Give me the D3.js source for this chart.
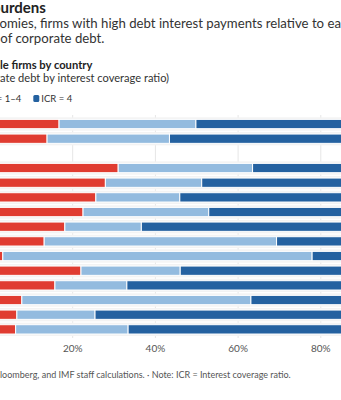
<!DOCTYPE html>
<html>
<head>
<meta charset="utf-8">
<script src="https://cdn.jsdelivr.net/npm/d3@7"></script>
<style>
  body { margin: 0; background: #fff; overflow: hidden; }
  svg { display: block; font-family: Lato, "Open Sans", sans-serif; }
</style>
</head>
<body>
<script>
// rows top to bottom; the empty string is the spacer between aggregates and countries
var categories = ["Advanced economies", "Emerging markets", "",
  "China", "India", "Turkey", "Brazil", "Indonesia", "South Africa",
  "Mexico", "Russia", "Korea", "United States", "Japan", "Germany"];
var icrBelow1 = [16.7, 13.8, null, 31.0, 27.9, 25.6, 22.5, 18.1, 13.1, 3.1, 22.0, 15.7, 7.7, 6.5, 6.2];
var icr1to4   = [33.1, 29.6, null, 32.5, 23.3, 20.3, 30.4, 18.5, 56.2, 74.8, 24.0, 17.4, 55.4, 18.9, 27.2];
var icrAbove4 = [50.2, 56.6, null, 36.5, 48.8, 54.1, 47.1, 63.4, 30.7, 22.1, 54.0, 66.9, 36.9, 74.6, 66.6];
var seriesNames = ["ICR < 1", "ICR = 1–4", "ICR = 4"];
var colors = ["#e03c31", "#93bbdf", "#2461a0"];
var xTicks = [0, 20, 40, 60, 80, 100];

var W = 341, H = 400;

var svg = d3.select("body").append("svg")
    .attr("width", W)
    .attr("height", H);

// the chart is wider than the window: its left side sits off screen.
// place a text so that the part after `hidden` starts at x0
function addCut(parent, str, hidden, x0, y0, size, weight, fill) {
  var t = parent.append("text")
      .attr("y", y0)
      .style("font-size", size + "px")
      .style("font-weight", weight)
      .style("fill", fill)
      .text(str);
  var w = hidden.length ? t.node().getSubStringLength(0, hidden.length) : 0;
  t.attr("x", x0 - w);
  return t;
}

// headings
addCut(svg, "Heavy debt burdens", "Heavy debt b", 0.5, 13, 15, "bold", "#222");
addCut(svg, "In some economies, firms with high debt interest payments relative to earnings hold",
    "In some econ", -0.5, 28, 13.2, "normal", "#333");
addCut(svg, "a large share of corporate debt.", "a large share ", 0.3, 43, 13.2, "normal", "#333");
addCut(svg, "Share of vulnerable firms by country", "Share of vulnerab", 0, 69, 11.2, "bold", "#222");
addCut(svg, "(percent of corporate debt by interest coverage ratio)", "(percent of corpor", 0, 81.5, 11.1, "normal", "#333");

// legend
var legend = svg.append("g");
var lx = 0, itemX = [];
seriesNames.forEach(function(name, i) {
  itemX.push(lx);
  var item = legend.append("g").attr("transform", "translate(" + lx + ",0)");
  item.append("rect")
      .attr("x", 0).attr("y", -6.5)
      .attr("width", 6).attr("height", 7)
      .attr("rx", 1.5)
      .style("fill", colors[i]);
  var t = item.append("text")
      .attr("x", 8)
      .style("font-size", "9.5px").style("fill", "#333")
      .text(name);
  lx += 8 + t.node().getComputedTextLength() + 12;
});
legend.attr("transform", "translate(" + (33.3 - itemX[2]) + ",101.5)");

// scales
var x = d3.scaleLinear().domain([0, 100]).range([-10, 403.5]);
var y = d3.scaleBand()
    .domain(d3.range(categories.length))
    .range([116.7, 336.7])
    .paddingInner(0.366)
    .paddingOuter(0.183);

// grid
svg.append("g").selectAll("line")
    .data(xTicks)
    .enter().append("line")
    .attr("x1", function(d) { return x(d); })
    .attr("x2", function(d) { return x(d); })
    .attr("y1", 115)
    .attr("y2", 338)
    .style("stroke", "#e6e6e6")
    .style("stroke-width", 1);

// stack the three shares
var rows = categories.map(function(c, i) {
  return { name: c, v: [icrBelow1[i], icr1to4[i], icrAbove4[i]] };
}).filter(function(r) { return r.v[0] !== null; });

var rowG = svg.append("g").selectAll("g")
    .data(rows)
    .enter().append("g")
    .attr("transform", function(d) { return "translate(0," + y(categories.indexOf(d.name)) + ")"; });

rowG.append("rect")
    .attr("x", x(0))
    .attr("y", -2)
    .attr("width", x(100) - x(0))
    .attr("height", y.bandwidth() + 4)
    .style("fill", "#f3f3f3");

rowG.selectAll("rect.seg")
    .data(function(d) {
      var acc = 0;
      return d.v.map(function(v, i) {
        var s = { x0: acc, x1: acc + v, i: i };
        acc += v;
        return s;
      });
    })
    .enter().append("rect")
    .attr("class", "seg")
    .attr("x", function(d) { return x(d.x0); })
    .attr("width", function(d) { return x(d.x1) - x(d.x0); })
    .attr("height", y.bandwidth())
    .style("fill", function(d) { return colors[d.i]; })
    .style("stroke", "#fff")
    .style("stroke-width", 1);

rowG.append("text")
    .attr("x", x(0) - 6)
    .attr("y", y.bandwidth() / 2)
    .attr("dy", "0.35em")
    .attr("text-anchor", "end")
    .style("font-size", "10px").style("fill", "#333")
    .text(function(d) { return d.name; });

// x axis labels
svg.append("g").selectAll("text")
    .data(xTicks)
    .enter().append("text")
    .attr("x", function(d) { return x(d); })
    .attr("y", 352)
    .attr("text-anchor", "middle")
    .style("font-size", "10px").style("fill", "#555")
    .text(function(d) { return d + "%"; });

// footer
addCut(svg, "Sources: Orbis, Bloomberg, and IMF staff calculations. · Note: ICR = Interest coverage ratio.",
    "Sources: Orbis, B", 0, 378, 9, "normal", "#555");
</script>
</body>
</html>
